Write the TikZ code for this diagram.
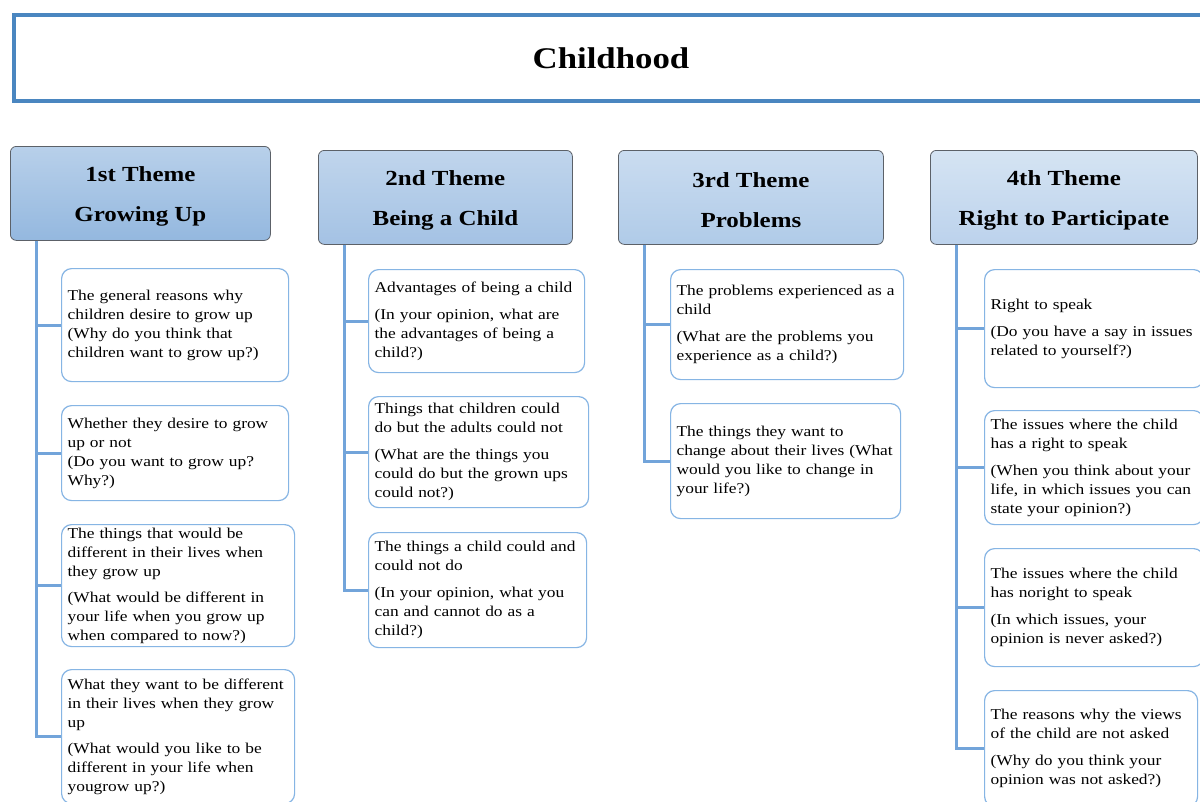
\documentclass[tikz,border=0pt]{standalone}
\usepackage{fontspec}
\setmainfont{Liberation Serif}[FakeStretch=1.16]
\definecolor{titleblue}{HTML}{4A86C0}
\definecolor{linkblue}{HTML}{72A4DA}
\definecolor{boxblue}{HTML}{86B5E4}
\definecolor{themeborder}{HTML}{5C6168}
\tikzset{
  titlebox/.style={draw=titleblue, line width=4pt, fill=white, inner sep=0pt, anchor=north west,
    font=\fontsize{30}{36}\selectfont\bfseries},
  theme/.style={draw=themeborder, line width=0.8pt, rounded corners=6pt, anchor=north west,
    inner sep=0pt},
  themetext/.style={inner sep=0pt, align=center, font=\fontsize{21.5}{40}\selectfont\bfseries},
  itembox/.style={draw=boxblue, line width=1.2pt, rounded corners=10pt, anchor=north west,
    inner xsep=6pt, inner ysep=0pt, align=left, fill=white, font=\fontsize{15}{19}\selectfont},
  conn/.style={draw=linkblue, line width=3pt},
}
\begin{document}
\begin{tikzpicture}[x=1pt,y=-1pt]
\clip (0,0) rectangle (1200,801);
\fill[white] (0,0) rectangle (1200,801);

% title
\node[titlebox, minimum width=1194pt, minimum height=86pt] (title) at (12,13) {\raisebox{0pt}{Childhood}};

% themes
\node[theme, minimum width=260pt, minimum height=94pt, top color={rgb,255:red,184;green,208;blue,234}, bottom color={rgb,255:red,148;green,184;blue,223}] (t1) at (10,146) {};
\node[theme, minimum width=254pt, minimum height=94pt, top color={rgb,255:red,192;green,213;blue,236}, bottom color={rgb,255:red,164;green,194;blue,228}] (t2) at (318,150) {};
\node[theme, minimum width=265pt, minimum height=94pt, top color={rgb,255:red,202;green,220;blue,240}, bottom color={rgb,255:red,176;green,203;blue,232}] (t3) at (618,150) {};
\node[theme, minimum width=267pt, minimum height=94pt, top color={rgb,255:red,213;green,228;blue,243}, bottom color={rgb,255:red,188;green,210;blue,236}] (t4) at (930,150) {};
\node[themetext] (t1l) at ([yshift=-3pt]t1.center) {1st Theme\\Growing Up};
\node[themetext] (t2l) at ([yshift=-3pt]t2.center) {2nd Theme\\Being a Child};
\node[themetext] (t3l) at ([yshift=-3pt]t3.center) {3rd Theme\\Problems};
\node[themetext] (t4l) at ([yshift=-3pt]t4.center) {4th Theme\\Right to Participate};

% column 1
\node[itembox, text width=215pt, minimum height=113pt] (a1) at (61,268)
  {The general reasons why\\children desire to grow up\\(Why do you think that\\children want to grow up?)};
\node[itembox, text width=215pt, minimum height=95pt] (a2) at (61,405)
  {Whether they desire to grow\\up or not\\(Do you want to grow up?\\Why?)};
\node[itembox, text width=221pt, minimum height=122pt] (a3) at (61,524)
  {The things that would be\\different in their lives when\\they grow up\\[7pt](What would be different in\\your life when you grow up\\when compared to now?)};
\node[itembox, text width=221pt, minimum height=134pt] (a4) at (61,669)
  {What they want to be different\\in their lives when they grow\\up\\[7pt](What would you like to be\\different in your life when\\yougrow up?)};

% column 2
\node[itembox, text width=204pt, minimum height=103pt] (b1) at (368,269)
  {Advantages of being a child\\[8pt](In your opinion, what are\\the advantages of being a\\child?)};
\node[itembox, text width=208pt, minimum height=111pt] (b2) at (368,396)
  {Things that children could\\do but the adults could not\\[8pt](What are the things you\\could do but the grown ups\\could not?)};
\node[itembox, text width=206pt, minimum height=115pt] (b3) at (368,532)
  {The things a child could and\\could not do\\[8pt](In your opinion, what you\\can and cannot do as a\\child?)};

% column 3
\node[itembox, text width=221pt, minimum height=110pt] (c1) at (670,269)
  {The problems experienced as a\\child\\[8pt](What are the problems you\\experience as a child?)};
\node[itembox, text width=218pt, minimum height=115pt] (c2) at (670,403)
  {The things they want to\\change about their lives (What\\would you like to change in\\your life?)};

% column 4
\node[itembox, text width=207pt, minimum height=118pt] (d1) at (984,269)
  {Right to speak\\[8pt](Do you have a say in issues\\related to yourself?)};
\node[itembox, text width=207pt, minimum height=114pt] (d2) at (984,410)
  {The issues where the child\\has a right to speak\\[8pt](When you think about your\\life, in which issues you can\\state your opinion?)};
\node[itembox, text width=207pt, minimum height=118pt] (d3) at (984,548)
  {The issues where the child\\has noright to speak\\[8pt](In which issues, your\\opinion is never asked?)};
\node[itembox, text width=201pt, minimum height=116pt] (d4) at (984,690)
  {The reasons why the views\\of the child are not asked\\[8pt](Why do you think your\\opinion was not asked?)};

% connectors
\foreach \t/\b in {t1/a1,t1/a2,t1/a3,t1/a4,t2/b1,t2/b2,t2/b3,t3/c1,t3/c2,t4/d1,t4/d2,t4/d3,t4/d4}{
  \draw[conn] ([xshift=26pt]\t.south west) |- (\b.west);
}
\end{tikzpicture}
\end{document}
